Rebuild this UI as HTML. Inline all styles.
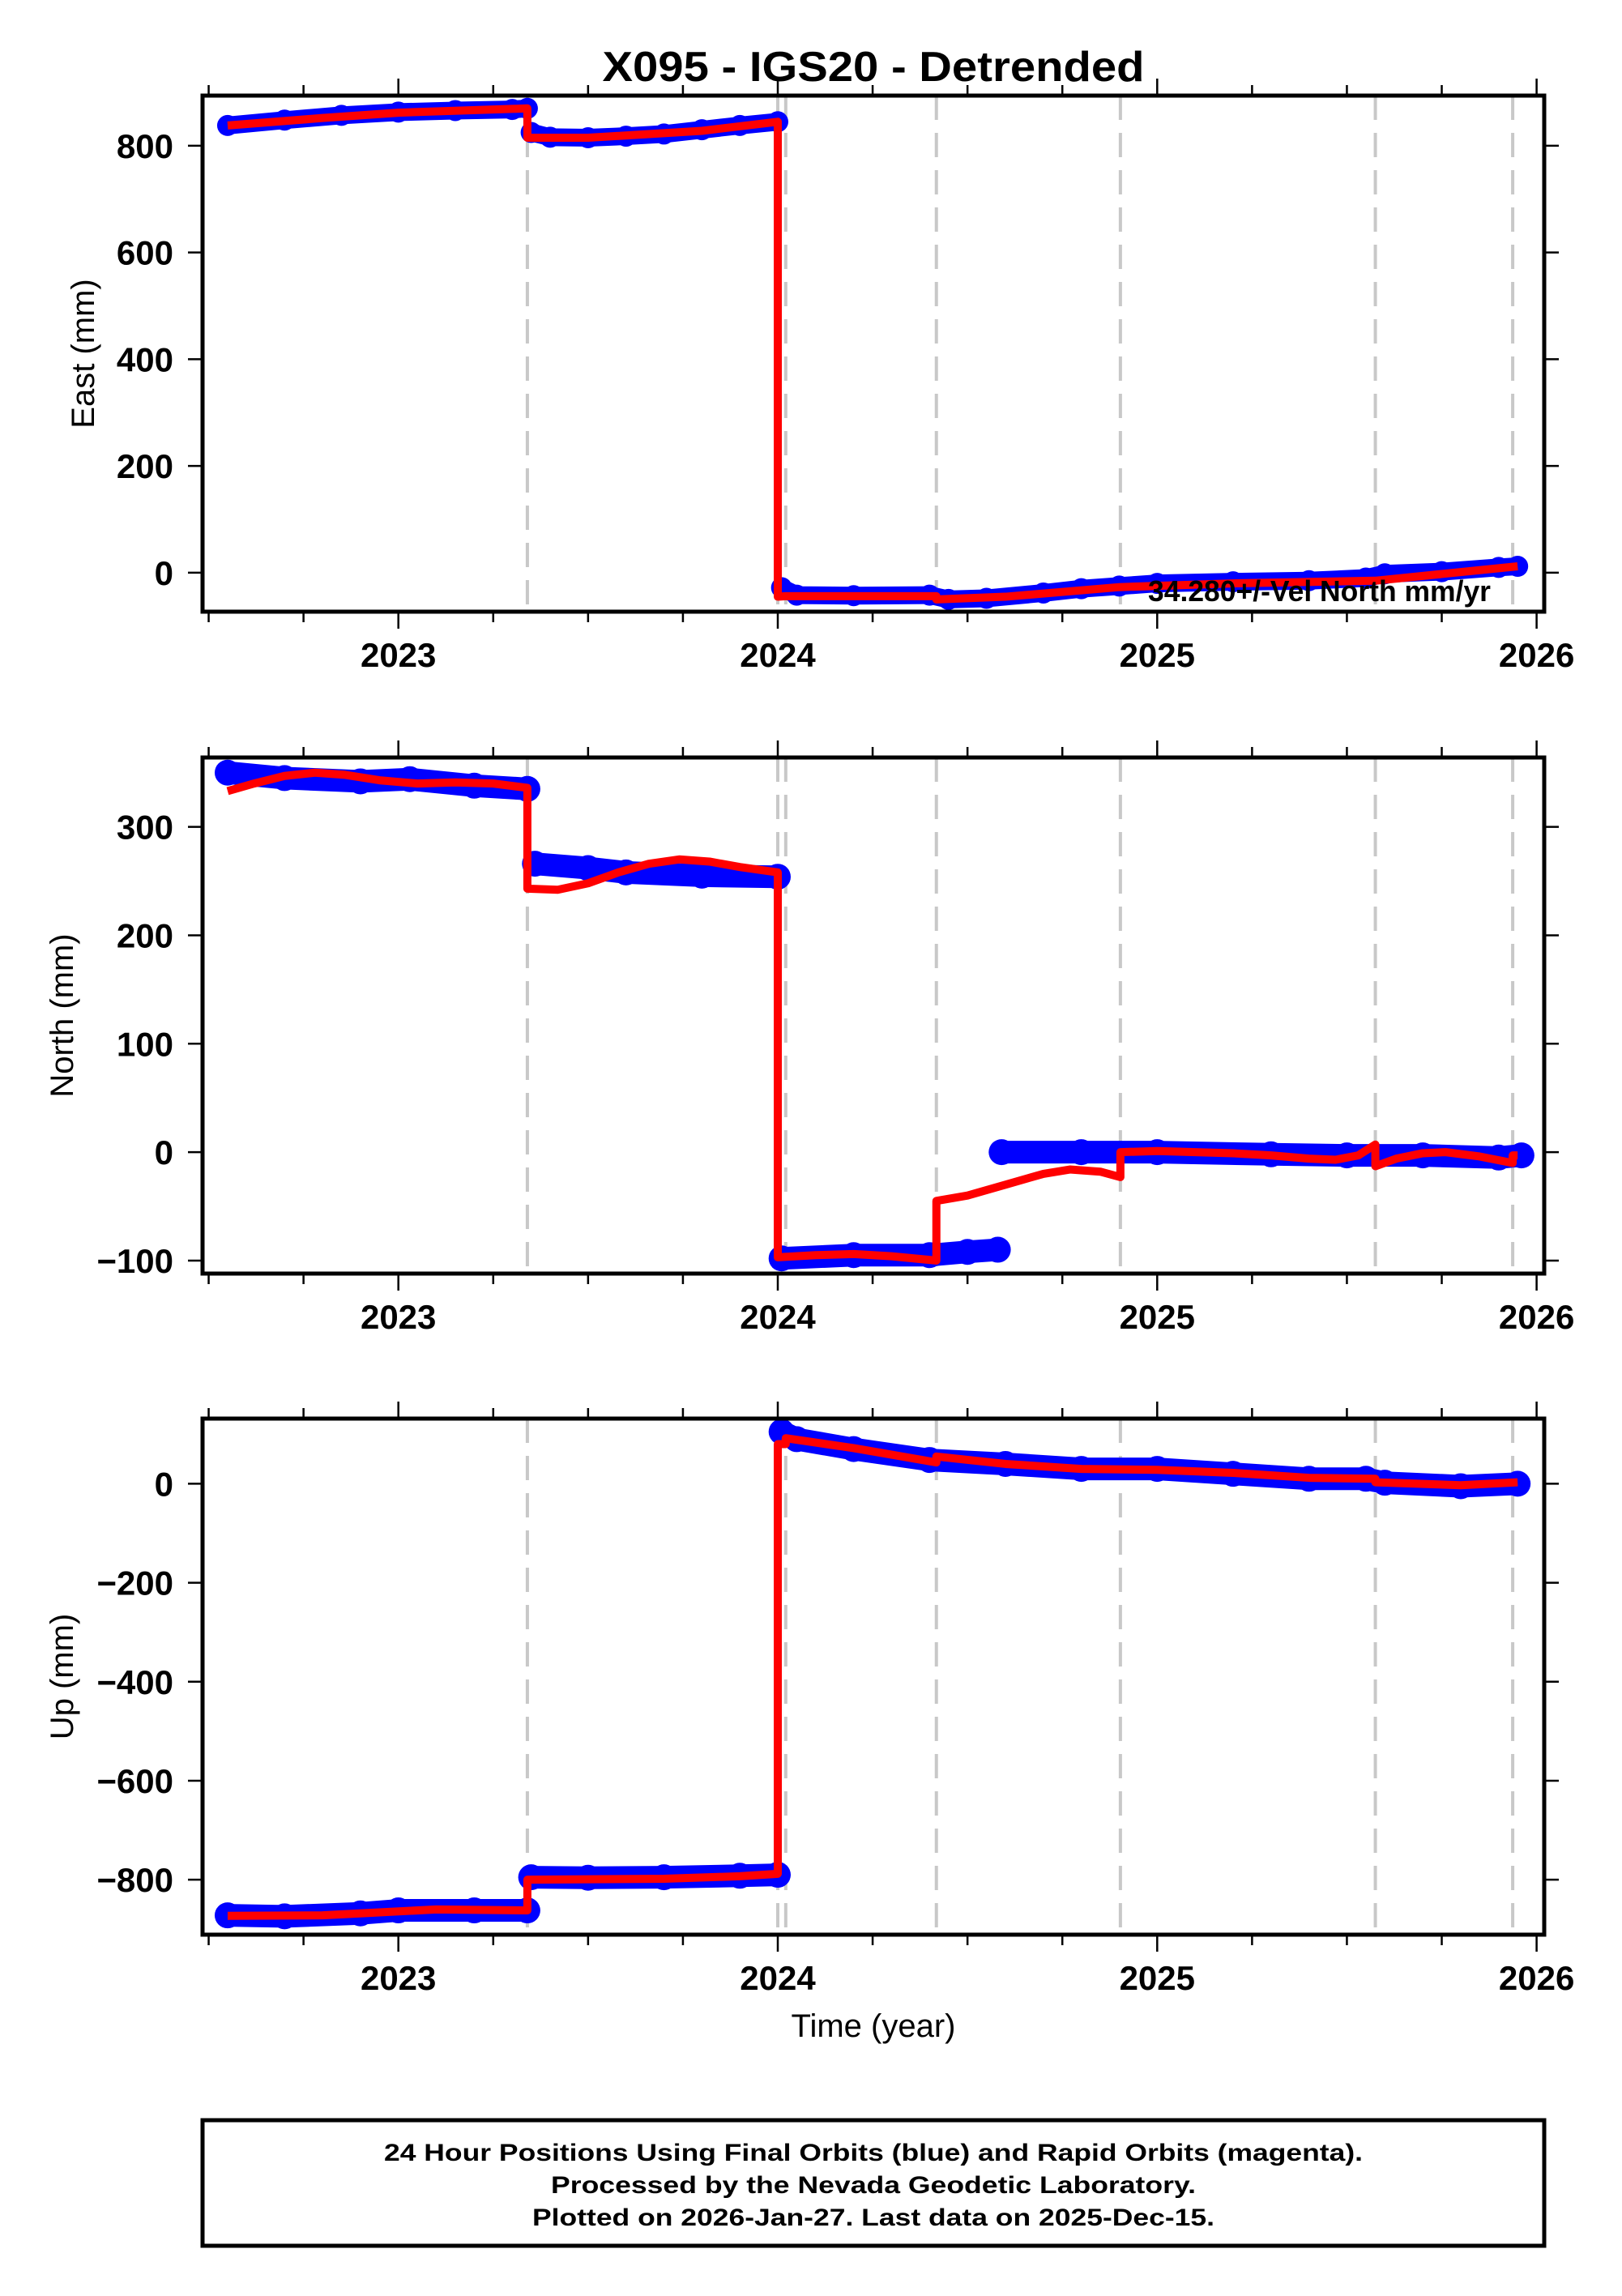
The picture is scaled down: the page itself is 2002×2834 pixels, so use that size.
<!DOCTYPE html>
<html><head><meta charset="utf-8"><title>X095 - IGS20 - Detrended</title>
<style>
html,body{margin:0;padding:0;background:#fff;}
svg{display:block;font-family:"Liberation Sans",sans-serif;}
</style></head>
<body>
<svg id="chart" xmlns="http://www.w3.org/2000/svg" width="2002" height="2834" viewBox="0 0 2002 2834">
<rect x="0" y="0" width="2002" height="2834" fill="#fff"/>
<text x="1078" y="100" text-anchor="middle" font-weight="bold" font-size="52" textLength="669" lengthAdjust="spacingAndGlyphs">X095 - IGS20 - Detrended</text>
<g id="panels"></g>
<text x="1078" y="2514" text-anchor="middle" font-size="40">Time (year)</text>
<rect x="250" y="2617" width="1656" height="155" fill="none" stroke="#000" stroke-width="5"/>
<text x="1078" y="2667" text-anchor="middle" font-weight="bold" font-size="30" textLength="1208" lengthAdjust="spacingAndGlyphs">24 Hour Positions Using Final Orbits (blue) and Rapid Orbits (magenta).</text>
<text x="1078" y="2707" text-anchor="middle" font-weight="bold" font-size="30" textLength="796" lengthAdjust="spacingAndGlyphs">Processed by the Nevada Geodetic Laboratory.</text>
<text x="1078" y="2747" text-anchor="middle" font-weight="bold" font-size="30" textLength="842" lengthAdjust="spacingAndGlyphs">Plotted on 2026-Jan-27. Last data on 2025-Dec-15.</text>
</svg>
<script>
// ---- data ----
const yearTicks = [2023, 2024, 2025, 2026];
const offsetEpochs = [2023.34, 2024.0, 2024.021, 2024.418, 2024.903, 2025.575, 2025.937];

const eastTicks = [0, 200, 400, 600, 800];
const eastObsT = [[2022.55,2022.7,2022.85,2023.0,2023.15,2023.3,2023.34],[2023.35,2023.4,2023.5,2023.6,2023.7,2023.8,2023.9,2024.0],[2024.01,2024.05,2024.2,2024.4,2024.45,2024.55,2024.7,2024.8,2024.9,2025.0,2025.2,2025.4,2025.55,2025.6,2025.75,2025.9,2025.95]];
const eastObsV = [[838,848,857,863,866,868,870],[825,816,815,818,822,830,838,845],[-28,-42,-43,-42,-50,-48,-38,-30,-25,-20,-17,-15,-10,-2,2,10,12]];
const eastModT = [2022.55,2022.8,2023.0,2023.34,2023.34,2023.5,2023.8,2024.0,2024.0,2024.021,2024.418,2024.418,2024.6,2024.9,2025.2,2025.575,2025.95];
const eastModV = [838,852,862,870,815,815,828,845,-45,-44,-44,-50,-45,-27,-20,-15,12];

const northTicks = [-100, 0, 100, 200, 300];
const northObsT = [[2022.55,2022.7,2022.9,2023.03,2023.2,2023.34],[2023.36,2023.5,2023.6,2023.8,2024.0],[2024.01,2024.2,2024.4,2024.5,2024.58],[2024.59,2024.8,2025.0,2025.3,2025.5,2025.7,2025.9,2025.96]];
const northObsV = [[350,345,342,344,338,335],[266,262,258,255,254],[-98,-95,-95,-92,-90],[0,0,0,-2,-3,-3,-5,-3]];
const northModT = [2022.55,2022.62,2022.7,2022.78,2022.86,2022.95,2023.05,2023.15,2023.25,2023.34,2023.34,2023.42,2023.5,2023.58,2023.66,2023.74,2023.82,2023.9,2024.0,2024.0,2024.1,2024.2,2024.3,2024.418,2024.418,2024.5,2024.6,2024.7,2024.77,2024.85,2024.903,2024.903,2025.0,2025.1,2025.2,2025.3,2025.4,2025.47,2025.53,2025.575,2025.575,2025.63,2025.7,2025.76,2025.85,2025.937,2025.937,2025.95];
const northModV = [333,340,347,350,348,343,340,341,340,336,243,242,248,258,266,270,268,263,258,-97,-95,-94,-96,-100,-45,-40,-30,-20,-16,-18,-23,0,1,0,-1,-3,-6,-7,-3,7,-13,-6,-1,0,-4,-10,-3,-3];

const upTicks = [-800, -600, -400, -200, 0];
const upObsT = [[2022.55,2022.7,2022.9,2023.0,2023.2,2023.34],[2023.35,2023.5,2023.7,2023.9,2024.0],[2024.01,2024.05,2024.2,2024.4,2024.6,2024.8,2025.0,2025.2,2025.4,2025.55,2025.6,2025.8,2025.95]];
const upObsV = [[-872,-874,-868,-862,-862,-862],[-795,-796,-795,-792,-790],[105,90,70,48,40,30,30,20,10,10,2,-5,0]];
const upModT = [2022.55,2022.8,2022.95,2023.1,2023.34,2023.34,2023.7,2023.9,2024.0,2024.0,2024.021,2024.021,2024.2,2024.418,2024.418,2024.6,2024.8,2025.0,2025.2,2025.4,2025.575,2025.575,2025.8,2025.95];
const upModV = [-873,-872,-866,-860,-862,-800,-798,-793,-788,80,80,92,72,43,55,40,30,28,22,12,10,3,-3,3];

// ---- layout ----
const NS = 'http://www.w3.org/2000/svg';
const L = 250, R = 1906, H = 637;
const x = t => 960 + (t - 2024) * 468.3;
function mk(tag, attrs, parent) {
  const e = document.createElementNS(NS, tag);
  for (const k in attrs) e.setAttribute(k, attrs[k]);
  parent.appendChild(e);
  return e;
}
const root = document.getElementById('panels');

function panel(name, top, ymin, ymax, ticks, obsT, obsV, modT, modV, band, title, titleX, annot) {
  const g = mk('g', {}, root);
  
  
  const y = v => top + H - (v - ymin) / (ymax - ymin) * H;
  const clip = mk('clipPath', {id: 'c-' + name}, g);
  mk('rect', {x: L, y: top, width: R - L, height: H}, clip);
  offsetEpochs.forEach(t => {
    const l = mk('line', {x1: x(t), x2: x(t), y1: top, y2: top + H, stroke: '#c8c8c8', 'stroke-width': 4, 'stroke-dasharray': '30,16'}, g);
    
    
  });
  const pg = mk('g', {'clip-path': 'url(#c-' + name + ')'}, g);
  obsT.forEach((ts, si) => {
    const pts = ts.map((t, i) => x(t) + ',' + y(obsV[si][i])).join(' ');
    const pl = mk('polyline', {points: pts, fill: 'none', stroke: '#0000ff', 'stroke-width': band, 'stroke-linecap': 'round', 'stroke-linejoin': 'round'}, pg);
    
    
    ts.forEach((t, i) => {
      const c = mk('circle', {cx: x(t), cy: y(obsV[si][i]), r: band / 2 + 2, fill: '#0000ff'}, pg);
      
      
    });
  });
  const mp = modT.map((t, i) => x(t) + ',' + y(modV[i])).join(' ');
  const ml = mk('polyline', {points: mp, fill: 'none', stroke: '#ff0000', 'stroke-width': 10, 'stroke-linejoin': 'round'}, pg);
  
  
  const fr = mk('rect', {x: L, y: top, width: R - L, height: H, fill: 'none', stroke: '#000', 'stroke-width': 5}, g);
  
  
  for (let q = 0; q <= 14; q++) {
    const t = 2022.5 + q * 0.25;
    const major = Math.abs(t - Math.round(t)) < 1e-6;
    const len = major ? 19 : 11;
    mk('line', {x1: x(t), x2: x(t), y1: top - 2, y2: top - 2 - len, stroke: '#000', 'stroke-width': 2.5}, g);
    mk('line', {x1: x(t), x2: x(t), y1: top + H + 2, y2: top + H + 2 + len, stroke: '#000', 'stroke-width': 2.5}, g);
  }
  yearTicks.forEach(t => {
    const tx = mk('text', {x: x(t), y: top + H + 68, 'text-anchor': 'middle', 'font-size': 42, 'font-weight': 'bold'}, g);
    
    
    tx.textContent = t;
  });
  ticks.forEach(v => {
    mk('line', {x1: L - 18, x2: L, y1: y(v), y2: y(v), stroke: '#000', 'stroke-width': 2.5}, g);
    mk('line', {x1: R, x2: R + 18, y1: y(v), y2: y(v), stroke: '#000', 'stroke-width': 2.5}, g);
    const tx = mk('text', {x: 214, y: y(v) + 15, 'text-anchor': 'end', 'font-size': 42, 'font-weight': 'bold'}, g);
    
    
    tx.textContent = v < 0 ? '\u2212' + Math.abs(v) : String(v);
  });
  const yt = mk('text', {x: 0, y: 0, 'text-anchor': 'middle', 'font-size': 40, transform: 'translate(' + titleX + ',' + (top + H / 2) + ') rotate(-90)'}, g);
  
  
  yt.textContent = title;
  if (annot) {
    const a = mk('text', {x: 1417, y: top + 624, 'font-size': 36, 'font-weight': 'bold', textLength: 423, lengthAdjust: 'spacingAndGlyphs'}, g);
    
    
    a.textContent = annot;
  }
}
panel('east', 118, -73, 894, eastTicks, eastObsT, eastObsV, eastModT, eastModV, 22, 'East (mm)', 116, '34.280+/-Vel North mm/yr');
panel('north', 935, -112, 364, northTicks, northObsT, northObsV, northModT, northModV, 28, 'North (mm)', 90, null);
panel('up', 1751, -911, 131.6, upTicks, upObsT, upObsV, upModT, upModV, 28, 'Up (mm)', 90, null);
</script>
</body></html>
